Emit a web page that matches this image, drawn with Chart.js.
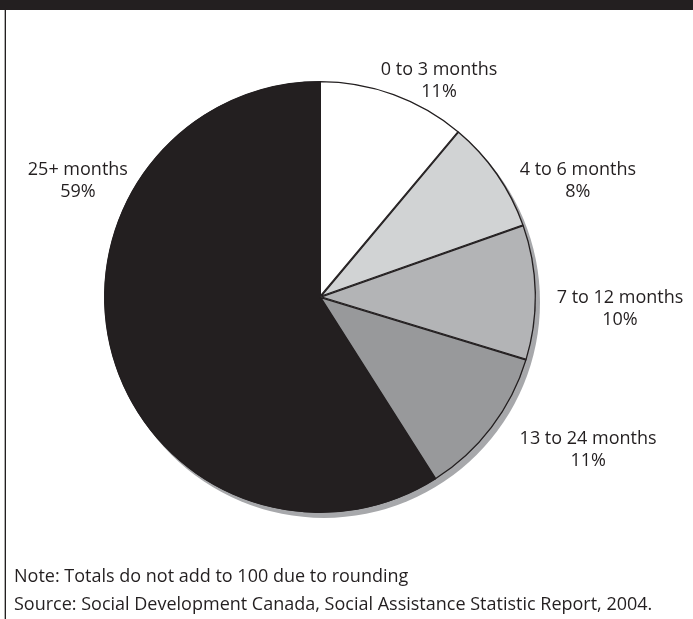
<!DOCTYPE html>
<html>
<head>
<meta charset="utf-8">
<script src="https://cdn.jsdelivr.net/npm/chart.js@4"></script>
<style>
  html, body { margin: 0; padding: 0; background: #fff; }
  body { width: 693px; height: 619px; position: relative; overflow: hidden; font-family: "Open Sans", sans-serif; color: #231f20; }
  #topbar { position: absolute; left: 0; top: 0; width: 693px; height: 10px; background: #231f20; }
  #edge { position: absolute; left: 4px; top: 10px; width: 1px; height: 609px; background: #b0b0b0; border-right: 1px solid #231f20; }
  #pie { position: absolute; left: 0; top: 0; }
  .note { position: absolute; left: 14px; font-size: 18px; line-height: 22px; white-space: nowrap; }
</style>
</head>
<body>
<div id="topbar"></div>
<div id="edge"></div>
<canvas id="pie" width="693" height="619"></canvas>
<div class="note" style="top:564px">Note: Totals do not add to 100 due to rounding</div>
<div class="note" style="top:592px">Source: Social Development Canada, Social Assistance Statistic Report, 2004.</div>
<script>
(function () {
  "use strict";

  var CATEGORIES = ["0 to 3 months", "4 to 6 months", "7 to 12 months", "13 to 24 months", "25+ months"];
  // slice sizes; the printed labels are rounded
  var SHARES = [11.1, 8.5, 10.1, 11.3, 59.0];
  var PRINTED_PCT = [11, 8, 10, 11, 59];
  var SLICE_COLORS = ["#ffffff", "#d1d3d4", "#b3b4b6", "#98999b", "#231f20"];

  // where each label sits: angle clockwise from top (deg), distance in pie radii
  var LABEL_ANGLE = [28.8, 65.7, 92.2, 119.7, 295.6];
  var LABEL_DIST = [1.144, 1.31, 1.39, 1.429, 1.243];

  var shadowPlugin = {
    id: "pieShadow",
    beforeDatasetsDraw: function (chart) {
      var arc = chart.getDatasetMeta(0).data[0];
      if (!arc) return;
      var ctx = chart.ctx;
      ctx.save();
      ctx.fillStyle = "#a7a8ab";
      ctx.beginPath();
      ctx.arc(arc.x + 4, arc.y + 5, arc.outerRadius, 0, Math.PI * 2);
      ctx.fill();
      ctx.restore();
    }
  };

  var labelPlugin = {
    id: "outerLabels",
    afterDatasetsDraw: function (chart) {
      var arc = chart.getDatasetMeta(0).data[0];
      if (!arc) return;
      var ctx = chart.ctx;
      ctx.save();
      ctx.font = '18px "Open Sans", sans-serif';
      ctx.fillStyle = "#231f20";
      ctx.textAlign = "center";
      ctx.textBaseline = "middle";
      for (var i = 0; i < CATEGORIES.length; i++) {
        var a = LABEL_ANGLE[i] * Math.PI / 180;
        var d = LABEL_DIST[i] * arc.outerRadius;
        var x = arc.x + Math.sin(a) * d;
        var y = arc.y - Math.cos(a) * d;
        ctx.fillText(CATEGORIES[i], x, y - 11);
        ctx.fillText(PRINTED_PCT[i] + "%", x, y + 11);
      }
      ctx.restore();
    }
  };

  new Chart(document.getElementById("pie"), {
    type: "pie",
    data: {
      labels: CATEGORIES,
      datasets: [{
        data: SHARES,
        backgroundColor: SLICE_COLORS,
        borderColor: "#231f20",
        borderWidth: 1,
        borderAlign: "inner"
      }]
    },
    options: {
      responsive: false,
      animation: false,
      layout: { padding: { left: 104, right: 157, top: 81, bottom: 106 } },
      plugins: { legend: { display: false }, tooltip: { enabled: false } }
    },
    plugins: [shadowPlugin, labelPlugin]
  });
})();
</script>
</body>
</html>
